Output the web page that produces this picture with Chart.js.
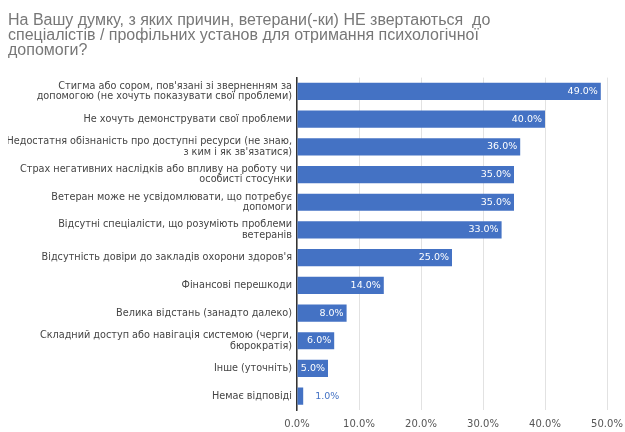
<!DOCTYPE html>
<html>
<head>
<meta charset="utf-8">
<script src="https://cdn.jsdelivr.net/npm/chart.js@4/dist/chart.umd.min.js"></script>
<style>
  html, body { margin: 0; padding: 0; background: #fff; }
  #wrap { width: 625px; height: 432px; }
</style>
</head>
<body>
<div id="wrap"><canvas id="myChart"></canvas></div>
<script>
// data
const titleLines = [
  "На Вашу думку, з яких причин, ветерани(-ки) НЕ звертаються  до",
  "спеціалістів / профільних установ для отримання психологічної",
  "допомоги?"
];
const reasons = [
  ["Стигма або сором, пов'язані зі зверненням за", "допомогою (не хочуть показувати свої проблеми)"],
  "Не хочуть демонструвати свої проблеми",
  ["Недостатня обізнаність про доступні ресурси (не знаю,", "з ким і як зв'язатися)"],
  ["Страх негативних наслідків або впливу на роботу чи", "особисті стосунки"],
  ["Ветеран може не усвідомлювати, що потребує", "допомоги"],
  ["Відсутні спеціалісти, що розуміють проблеми", "ветеранів"],
  "Відсутність довіри до закладів охорони здоров'я",
  "Фінансові перешкоди",
  "Велика відстань (занадто далеко)",
  ["Складний доступ або навігація системою (черги,", "бюрократія)"],
  "Інше (уточніть)",
  "Немає відповіді"
];
const percents = [49, 40, 36, 35, 35, 33, 25, 14, 8, 6, 5, 1];
const xTicks = [0, 10, 20, 30, 40, 50];

const barBlue = "#4472c4";
const smallFont = "'DejaVu Sans', Verdana, sans-serif";

// value labels at bar ends (white inside, blue outside when the bar is too short)
const valueLabels = {
  id: "valueLabels",
  afterDatasetsDraw(chart) {
    const ctx = chart.ctx;
    const meta = chart.getDatasetMeta(0);
    ctx.save();
    ctx.font = "9.5px " + smallFont;
    ctx.textBaseline = "middle";
    meta.data.forEach((bar, i) => {
      const txt = percents[i].toFixed(1) + "%";
      const w = ctx.measureText(txt).width;
      const len = bar.x - bar.base;
      if (len > w + 3) {
        ctx.fillStyle = "#ffffff";
        ctx.textAlign = "right";
        ctx.fillText(txt, bar.x - 3, bar.y);
      } else {
        ctx.fillStyle = barBlue;
        ctx.textAlign = "left";
        ctx.fillText(txt, bar.x + 12, bar.y);
      }
    });
    ctx.restore();
  }
};

const ctx = document.getElementById("myChart");
new Chart(ctx, {
  type: "bar",
  data: {
    labels: reasons,
    datasets: [{
      data: percents,
      backgroundColor: barBlue,
      borderWidth: 0,
      categoryPercentage: 0.62,
      barPercentage: 1
    }]
  },
  plugins: [valueLabels],
  options: {
    indexAxis: "y",
    responsive: true,
    maintainAspectRatio: false,
    animation: false,
    layout: { padding: { left: 8, right: 18, top: 4, bottom: 0 } },
    plugins: {
      legend: { display: false },
      tooltip: { enabled: false },
      title: {
        display: true,
        text: titleLines,
        align: "start",
        color: "#777777",
        font: { family: "'Liberation Sans', Arial, sans-serif", size: 16, weight: "normal", lineHeight: 0.95 },
        padding: { top: 9, bottom: 19 }
      }
    },
    scales: {
      x: {
        min: 0,
        max: 50,
        afterBuildTicks(scale) {
          scale.ticks = xTicks.map(v => ({ value: v }));
        },
        afterFit(scale) {
          scale.height = 22;
          scale.paddingRight = 0;
        },
        ticks: {
          callback: v => v.toFixed(1) + "%",
          color: "#555555",
          font: { family: smallFont, size: 10 },
          maxRotation: 0,
          padding: 8
        },
        grid: { color: "#e2e2e2", drawTicks: false },
        border: { display: false }
      },
      y: {
        afterFit(scale) { scale.width = 289; },
        ticks: {
          color: "#444444",
          font: { family: smallFont, size: 9.7, lineHeight: 1.08 },
          padding: 5,
          autoSkip: false
        },
        grid: { display: false, drawTicks: false },
        border: { display: true, color: "#333333", width: 1.5 }
      }
    }
  }
});
</script>
</body>
</html>
